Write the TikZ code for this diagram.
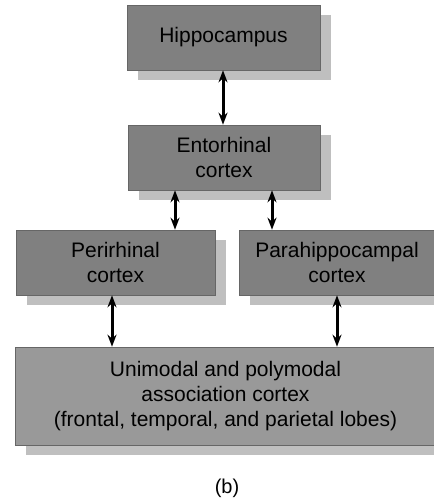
\documentclass[tikz,border=0pt]{standalone}
\usepackage{fontspec}
\setmainfont{Liberation Sans}
\usetikzlibrary{shadows,arrows.meta}
\begin{document}
\begin{tikzpicture}[x=1pt,y=-1pt,
  box/.style={fill=black!50, draw=black!60, line width=0.6pt, align=center, inner sep=0pt,
    font=\fontsize{21}{25}\selectfont,
    general shadow={fill=black!25, draw=none, shadow xshift=11pt, shadow yshift=-10pt}},
  link/.style={line width=3pt, {Stealth[length=12pt,width=9pt]}-{Stealth[length=12pt,width=9pt]}}]
\useasboundingbox (0,0) rectangle (434,504);
\node[box, minimum width=193pt, minimum height=65pt] (hip) at (223.5,37.5) {Hippocampus};
\node[box, minimum width=192pt, minimum height=65pt] (ent) at (224,157.5) {Entorhinal\\cortex};
\node[box, minimum width=199pt, minimum height=65pt] (peri) at (115.5,262.5) {Perirhinal\\cortex};
\node[box, minimum width=196pt, minimum height=65pt] (para) at (337,262.5) {Parahippocampal\\cortex};
\node[box, fill=black!40, minimum width=421pt, minimum height=98pt] (assoc) at (225.5,396) {Unimodal and polymodal\\association cortex\\(frontal, temporal, and parietal lobes)};
\node[font=\fontsize{20}{24}\selectfont, inner sep=0pt] (lab) at (227,488) {(b)};
\draw[link] (223,0 |- hip.south) -- (223,0 |- ent.north);
\draw[link] (175,0 |- ent.south) -- (175,0 |- peri.north);
\draw[link] (272,0 |- ent.south) -- (272,0 |- para.north);
\draw[link] (112,0 |- peri.south) -- (112,0 |- assoc.north);
\draw[link] (337,0 |- para.south) -- (337,0 |- assoc.north);
\end{tikzpicture}
\end{document}
